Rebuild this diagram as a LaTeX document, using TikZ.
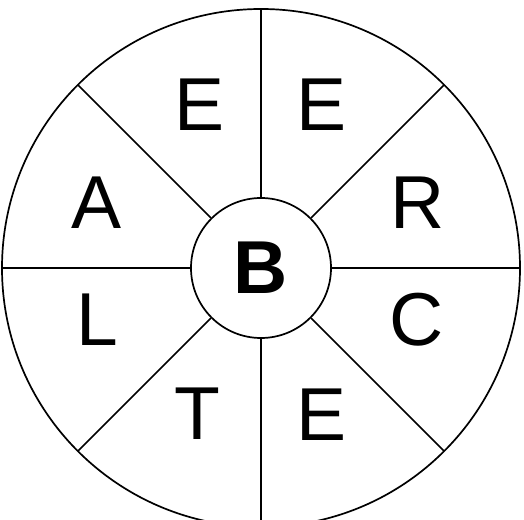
\documentclass[tikz,border=0pt]{standalone}
\usepackage{fontspec}
\setmainfont{Liberation Sans}
\usetikzlibrary{positioning,calc}
\newcommand{\wheelfont}{\fontsize{75}{75}\selectfont}
\tikzset{
  rim/.style    ={draw, line width=1.7pt},
  spoke/.style  ={draw, line width=1.7pt},
  hubnode/.style={circle, draw, line width=1.7pt, minimum size=140pt,
                  inner sep=0pt, font=\wheelfont\bfseries},
  letter/.style ={inner sep=0pt, font=\wheelfont},
}
\begin{document}
\begin{tikzpicture}[x=1pt,y=1pt]
\useasboundingbox (0,0) rectangle (524,519);
\fill[white] (0,0) rectangle (524,519);
\coordinate (ctr) at (261,251);
\draw[rim] (ctr) circle[radius=259];
\node[hubnode] (hub) at (ctr) {B};
\foreach \a in {0,45,...,315}
  \draw[spoke] (hub.\a) -- ($(ctr)+(\a:259)$);
\node[letter] (eul) at (200,414) {E};
\node[letter] (eur) at (322,414) {E};
\node[letter] (r)   at (418,316) {R};
\node[letter] (c)   at (417,199) {C};
\node[letter] (elr) at (322,104) {E};
\node[letter] (t)   at (197,105) {T};
\node[letter] (l)   at (97,199)  {L};
\node[letter] (a)   at (97,316)  {A};
\end{tikzpicture}
\end{document}
